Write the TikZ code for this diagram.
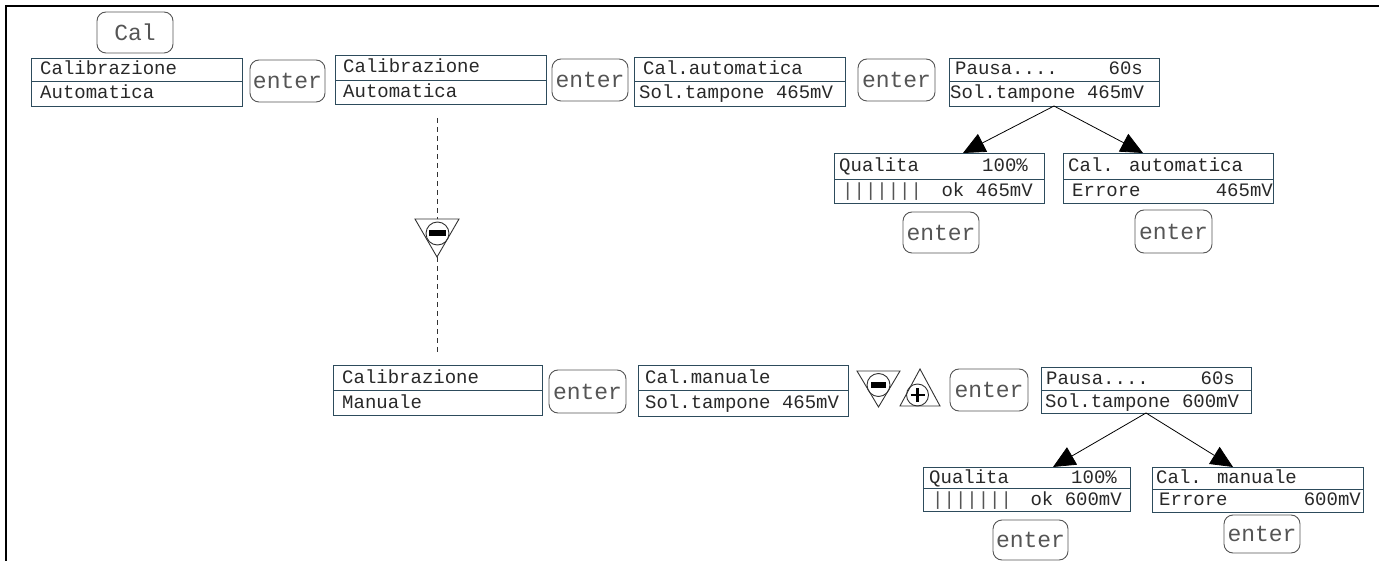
\documentclass[tikz,border=0pt]{standalone}
\usepackage{fontspec}
\newfontfamily\monof{Liberation Mono}
\usetikzlibrary{arrows.meta,calc}
\definecolor{lcdcol}{RGB}{45,75,92}
\definecolor{txtcol}{RGB}{40,40,40}
\definecolor{keycol}{RGB}{85,85,85}
\definecolor{tricol}{RGB}{50,50,50}
\newcommand\mkdisp[6]{%
  \node[lcd, minimum width={(#4-#2)*1pt}, minimum height={(#5-#3)*1pt}] (#1) at (#2,#3) {};
  \draw[lcdline] (#2,#6) -- (#4,#6);}
\newcommand\mkkey[6]{%
  \node[keybox, minimum width={(#4-#2)*1pt}, minimum height={(#5-#3)*1pt}] (#1) at (#2,#3) {#6};}
\begin{document}
\begin{tikzpicture}[x=1pt,y=-1pt,
  lcd/.style={draw=lcdcol, line width=0.95pt, inner sep=0pt, outer sep=0pt, anchor=north west},
  lcdline/.style={draw=lcdcol, line width=0.95pt},
  txt/.style={font=\monof\fontsize{19}{19}\selectfont, text=txtcol, inner sep=0pt, anchor=base west},
  rtxt/.style={txt, anchor=base east},
  bars/.style={txt, text=keycol},
  keybox/.style={draw=keycol, line width=0.9pt, rounded corners=9pt, inner sep=0pt, outer sep=0pt, anchor=north west, font=\monof\fontsize{23}{23}\selectfont, text=keycol},
  arr/.style={-{Triangle[length=22pt,width=20pt]}, line width=0.8pt, black},
  tri/.style={draw=tricol, line width=0.9pt},
  frame/.style={line width=2.3pt, black},
  dl/.style={draw=tricol, line width=0.9pt, dash pattern=on 5pt off 4pt}
]
\useasboundingbox (0,0) rectangle (1379,561);
% frame
\draw[frame] (6,561) -- (6,6) -- (1379,6);

% keys
\mkkey{kcal}{97}{12}{173}{53}{Cal}
\mkkey{k1}{250}{60}{325}{102}{enter}
\mkkey{k2}{552}{59}{628}{101}{enter}
\mkkey{k3}{858}{59}{935}{101}{enter}
\mkkey{k4}{903}{212}{979}{253}{enter}
\mkkey{k5}{1135}{210}{1212}{253}{enter}
\mkkey{k6}{549}{370}{626}{413}{enter}
\mkkey{k7}{950}{369}{1028}{411}{enter}
\mkkey{k8}{993}{520}{1068}{560}{enter}
\mkkey{k9}{1224}{515}{1300}{553}{enter}

% displays
\mkdisp{B1}{31}{58}{242}{106}{81}
\node[txt] (B1a) at (40,75) {Calibrazione};
\node[txt] (B1b) at (40,99) {Automatica};

\mkdisp{B2}{335}{55}{546}{104}{80}
\node[txt] (B2a) at (343,73) {Calibrazione};
\node[txt] (B2b) at (343,97.5) {Automatica};

\mkdisp{B3}{634}{57}{845}{106}{81}
\node[txt] (B3a) at (643,74.5) {Cal.automatica};
\node[txt] (B3b) at (639,99) {Sol.tampone 465mV};

\mkdisp{B4}{949}{58}{1159}{106}{81}
\node[txt] (B4a) at (955,75) {Pausa....};
\node[rtxt] (B4c) at (1143,75) {60s};
\node[txt] (B4b) at (950,99) {Sol.tampone 465mV};

\mkdisp{Q1}{834}{153}{1044}{203}{179}
\node[txt] (Q1a) at (839,171.5) {Qualita};
\node[rtxt] (Q1c) at (1028,171.5) {100\%};
\node[bars] (Q1b) at (842,196.5) {|||||||};
\node[rtxt] (Q1d) at (1033,196.5) {ok 465mV};

\mkdisp{E1}{1063}{153}{1273}{203}{179}
\node[txt] (E1a) at (1068,171.5) {Cal. automatica};
\node[txt] (E1b) at (1072,196.5) {Errore};
\node[rtxt] (E1c) at (1273,196.5) {465mV};

\mkdisp{B5}{333}{365}{542}{415}{390}
\node[txt] (B5a) at (342,383) {Calibrazione};
\node[txt] (B5b) at (342,408) {Manuale};

\mkdisp{B6}{638}{365}{848}{416}{390}
\node[txt] (B6a) at (645,383) {Cal.manuale};
\node[txt] (B6b) at (645,408.5) {Sol.tampone 465mV};

\mkdisp{B7}{1041}{367}{1251}{413}{390}
\node[txt] (B7a) at (1046,384) {Pausa....};
\node[rtxt] (B7c) at (1235,384) {60s};
\node[txt] (B7b) at (1045,407) {Sol.tampone 600mV};

\mkdisp{Q2}{923}{467}{1130}{511}{488}
\node[txt] (Q2a) at (929,483) {Qualita};
\node[rtxt] (Q2c) at (1117,483) {100\%};
\node[bars] (Q2b) at (932,505) {|||||||};
\node[rtxt] (Q2d) at (1122,505) {ok 600mV};

\mkdisp{E2}{1152}{467}{1363}{512}{489}
\node[txt] (E2a) at (1156,483) {Cal. manuale};
\node[txt] (E2b) at (1159,505.5) {Errore};
\node[rtxt] (E2c) at (1361,505.5) {600mV};

% arrows
\draw[arr] (B4.south) -- ($(Q1.north west)+(129,0)$);
\draw[arr] (B4.south) -- ($(E1.north west)+(80,0)$);
\draw[arr] (B7.south) -- ($(Q2.north west)+(130,0)$);
\draw[arr] (B7.south) -- ($(E2.north west)+(81,0)$);

% dashed path with minus key
\coordinate (d0) at (437,118);
\coordinate (t1top) at (437,219);
\coordinate (t1bot) at (437,257);
\coordinate (d1) at (437,352);
\draw[dl] (d0) -- (t1top);
\draw[dl] (t1bot) -- (d1);
\draw[tri] (415,219) -- (459,219) -- (437,257) -- cycle;
\draw[tri] (437.5,233.5) circle (11.5);
\fill[black] (429,230) rectangle (446,236);

% minus / plus keys bottom row
\draw[tri] (857,371) -- (900,371) -- (878.5,407) -- cycle;
\draw[tri] (878.5,385) circle (11.5);
\fill[black] (871,382) rectangle (886,388);
\draw[tri] (920,369) -- (940,406) -- (900,406) -- cycle;
\draw[tri] (917.5,395) circle (11);
\draw[black, line width=2.6pt] (910.5,395) -- (924.5,395);
\draw[black, line width=2.6pt] (917.5,388) -- (917.5,402);
\end{tikzpicture}
\end{document}
